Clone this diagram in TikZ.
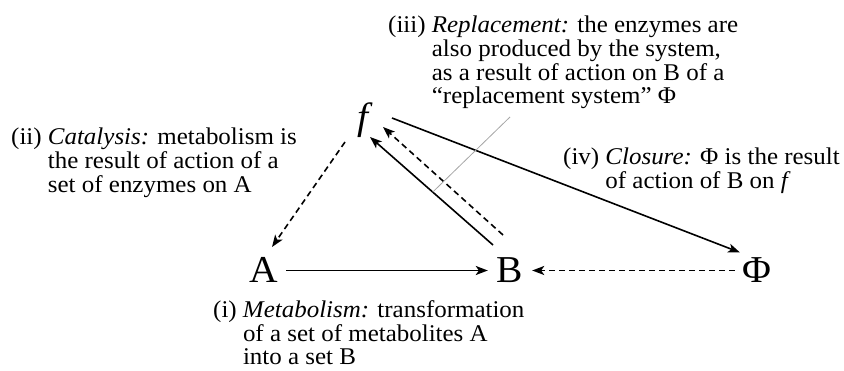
\documentclass[tikz,border=0pt]{standalone}
\usepackage{fontspec}
\setmainfont{Liberation Serif}[FakeStretch=1.04]
\usetikzlibrary{arrows.meta,calc}

\tikzset{
  letter/.style={circle, inner sep=0pt, minimum size=44pt, text height=25pt, text depth=0pt, font=\fontsize{38}{38}\selectfont},
  note/.style={anchor=base west, inner sep=0pt, font=\fontsize{24}{22.8}\selectfont},
  link/.style={line width=1.6pt, -{Stealth[length=12pt,width=9pt,inset=3pt]}},
  dlink/.style={link, dash pattern=on 6pt off 4pt},
}

\begin{document}
\begin{tikzpicture}[x=1pt,y=-1pt]
\useasboundingbox (0,0) rectangle (844,371);
% the three sets and the enzymes
\node[letter] (A) at (264,270.5) {A};
\node[letter] (B) at (510,270.5) {B};
\node[letter] (phi) at (757,270.5) {Φ};
\node[letter, minimum size=56pt, text height=27pt, text depth=9pt] (f) at (365,121) {\textit{f}};
% the four notes
\node[note] (metab) at (213,318) {\begin{tabular}[t]{@{}l@{\ }l@{}}(i) & \textit{Metabolism:} transformation\\ & of a set of metabolites A\\ & into a set B\end{tabular}};
\node[note] (catal) at (11,145) {\begin{tabular}[t]{@{}l@{\ }l@{}}(ii) & \textit{Catalysis:} metabolism is\\ & the result of action of a\\ & set of enzymes on A\end{tabular}};
\node[note] (repl) at (388,33) {\begin{tabular}[t]{@{}l@{\ }l@{}}(iii) & \textit{Replacement:} the enzymes are\\ & also produced by the system,\\ & as a result of action on B of a\\ & “replacement system” Φ\end{tabular}};
\node[note] (clos) at (563,165) {\begin{tabular}[t]{@{}l@{\ }l@{}}(iv) & \textit{Closure:} Φ is the result\\ & of action of B on \textit{f}\end{tabular}};
% metabolism and catalysis
\draw[link] (A) -- (B);
\draw[dlink] ([shift={(-20,21)}]f.center) -- ([shift={(8,-23.5)}]A.center);
% replacement, two parallel arrows
\draw[link] ([shift={(-17,-25.5)}]B.center) -- coordinate[pos=0.49] (graybot) ([shift={(5,16)}]f.center);
\draw[dlink] ([shift={(-7,-35.5)}]B.center) -- ([shift={(18,6)}]f.center);
% closure
\draw[link] ([shift={(27,-3)}]f.center) -- ([shift={(-17,-18)}]phi.center);
\draw[dlink] (phi) -- (B);
% pointer from note (iii)
\draw[gray!70, line width=0.8pt] ($(repl.base west)+(122,84)$) -- (graybot);
\end{tikzpicture}
\end{document}
